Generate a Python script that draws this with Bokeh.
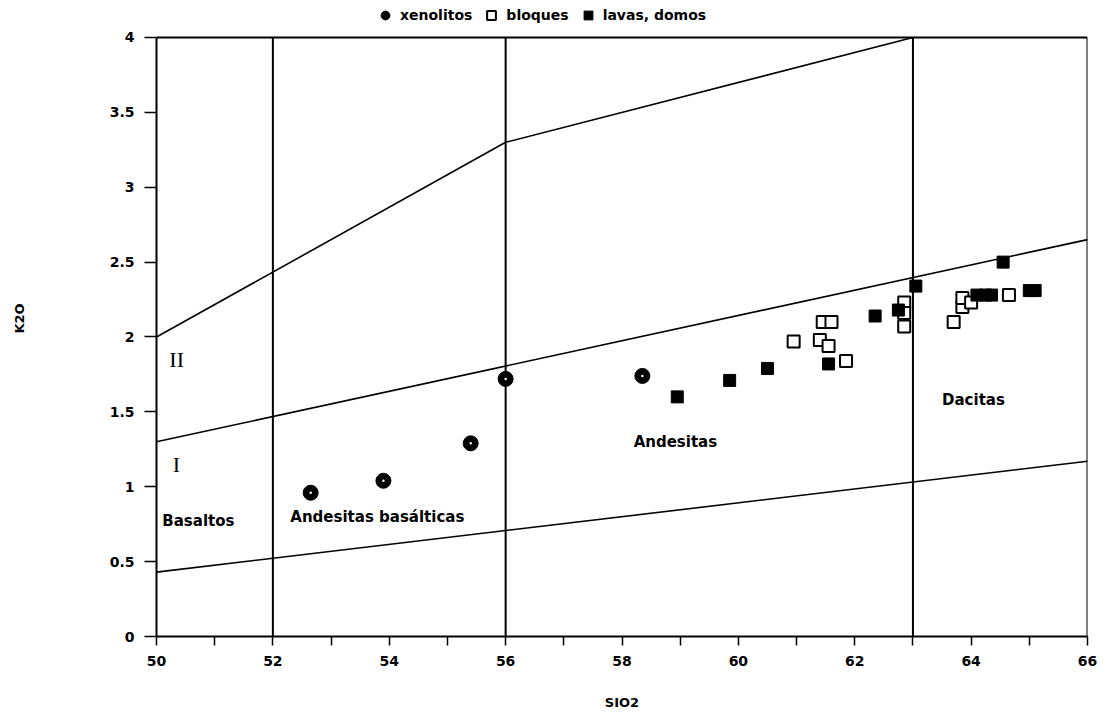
from bokeh.plotting import figure
from bokeh.models import Range1d, FixedTicker, Legend, LegendItem, Label
from bokeh.embed import file_html
from bokeh.resources import INLINE

# ---- data ----
xen_sio2 = [52.65, 53.9, 55.4, 56.0, 58.35]
xen_k2o = [0.96, 1.04, 1.29, 1.72, 1.74]

blo_sio2 = [60.95, 61.4, 61.55, 61.45, 61.6, 61.85, 62.85, 62.85, 62.85, 63.7, 63.85, 63.85, 64.0, 64.65]
blo_k2o = [1.97, 1.98, 1.94, 2.10, 2.10, 1.84, 2.23, 2.16, 2.07, 2.10, 2.20, 2.26, 2.23, 2.28]

lav_sio2 = [58.95, 59.85, 60.5, 61.55, 62.35, 62.75, 63.05, 64.1, 64.25, 64.35, 64.55, 65.0, 65.1]
lav_k2o = [1.60, 1.71, 1.79, 1.82, 2.14, 2.18, 2.34, 2.28, 2.28, 2.28, 2.50, 2.31, 2.31]

# classification boundaries
top_x = [50, 56, 63]
top_y = [2.0, 3.3, 4.0]
mid_x = [50, 66]
mid_y = [1.3, 2.65]
low_x = [50, 66]
low_y = [0.43, 1.17]
div_x = [52, 56, 63]

# diagram frame
x_min, x_max = 50, 66
y_min, y_max = 0, 4

x_ticks = [50, 52, 54, 56, 58, 60, 62, 64, 66]
x_minor = [51, 53, 55, 57, 59, 61, 63, 65]
y_ticks = [0, 0.5, 1, 1.5, 2, 2.5, 3, 3.5, 4]
y_labels = ["0", "0.5", "1", "1.5", "2", "2.5", "3", "3.5", "4"]

FONT = "DejaVu Sans"

# the range runs a little above 4 so that the legend can sit above the diagram
p = figure(width=1106, height=718, output_backend="svg", toolbar_location=None,
           x_range=Range1d(x_min, x_max), y_range=Range1d(y_min, 4.247),
           min_border_left=156, min_border_right=19, min_border_top=0, min_border_bottom=82)
p.background_fill_color = "white"
p.border_fill_color = "white"
p.xgrid.visible = False
p.ygrid.visible = False
p.outline_line_color = None

# axes
p.xaxis.ticker = FixedTicker(ticks=x_ticks, minor_ticks=x_minor)
p.yaxis.ticker = FixedTicker(ticks=y_ticks)
p.yaxis.bounds = (y_min, y_max)
p.yaxis.major_label_overrides = {t: l for t, l in zip(y_ticks, y_labels)}
for ax in (p.xaxis[0], p.yaxis[0]):
    ax.axis_line_color = "black"
    ax.axis_line_width = 2
    ax.major_tick_line_color = "black"
    ax.major_tick_line_width = 1.5
    ax.major_tick_in = 0
    ax.major_label_text_font = FONT
    ax.major_label_text_font_style = "bold"
    ax.major_label_text_font_size = "14px"
    ax.major_label_text_color = "black"
    ax.axis_label_text_font = FONT
    ax.axis_label_text_font_style = "bold"
    ax.axis_label_text_font_size = "13px"
    ax.axis_label_text_color = "black"
p.xaxis.major_tick_out = 9
p.xaxis.minor_tick_out = 9
p.xaxis.minor_tick_in = 0
p.xaxis.minor_tick_line_color = "black"
p.xaxis.minor_tick_line_width = 1.5
p.xaxis.major_label_standoff = 10
p.xaxis.axis_label = "SIO2"
p.xaxis.axis_label_standoff = 26
p.yaxis.major_tick_out = 12
p.yaxis.minor_tick_line_color = None
p.yaxis.major_label_standoff = 10
p.yaxis.axis_label = "K2O"
p.yaxis.axis_label_standoff = 80

# top and right edges of the diagram
p.segment(x0=[x_min, x_max], y0=[y_max, y_min], x1=[x_max, x_max], y1=[y_max, y_max],
          line_color="black", line_width=2)

# boundary lines
p.line(top_x, top_y, line_color="black", line_width=1.6)
p.line(mid_x, mid_y, line_color="black", line_width=1.6)
p.line(low_x, low_y, line_color="black", line_width=1.6)
p.segment(x0=div_x, y0=[y_min] * len(div_x), x1=div_x, y1=[y_max] * len(div_x),
          line_color="black", line_width=2)

# points
r_xen = p.scatter(xen_sio2, xen_k2o, marker="circle", size=15,
                  fill_color="black", line_color="black")
p.scatter(xen_sio2, xen_k2o, marker="dot", size=10, line_color="white", fill_color="white")
r_blo = p.scatter(blo_sio2, blo_k2o, marker="square", size=12,
                  fill_color="white", line_color="black", line_width=2)
r_lav = p.scatter(lav_sio2, lav_k2o, marker="square", size=12,
                  fill_color="black", line_color="black")

# region labels
def lab(x, y, t, size="15px", font=FONT, style="bold"):
    p.add_layout(Label(x=x, y=y, text=t, text_font=font, text_font_style=style,
                       text_font_size=size, text_baseline="middle", text_color="black"))

lab(50.22, 1.85, "II", size="22px", font="Liberation Serif", style="normal")
lab(50.28, 1.15, "I", size="22px", font="Liberation Serif", style="normal")
lab(50.1, 0.77, "Basaltos")
lab(52.3, 0.80, "Andesitas basálticas")
lab(58.2, 1.30, "Andesitas")
lab(63.5, 1.58, "Dacitas")

legend = Legend(items=[LegendItem(label="xenolitos", renderers=[r_xen]),
                       LegendItem(label="bloques", renderers=[r_blo]),
                       LegendItem(label="lavas, domos", renderers=[r_lav])],
                orientation="horizontal", location=(218, 610),
                label_text_font=FONT, label_text_font_style="bold",
                label_text_font_size="14px", label_text_color="black",
                label_standoff=4, label_height=22, glyph_width=22, glyph_height=22,
                spacing=8, padding=2, margin=0, border_line_color=None,
                background_fill_alpha=0)
p.add_layout(legend, "center")

open("out.html", "w").write(file_html(p, INLINE))
